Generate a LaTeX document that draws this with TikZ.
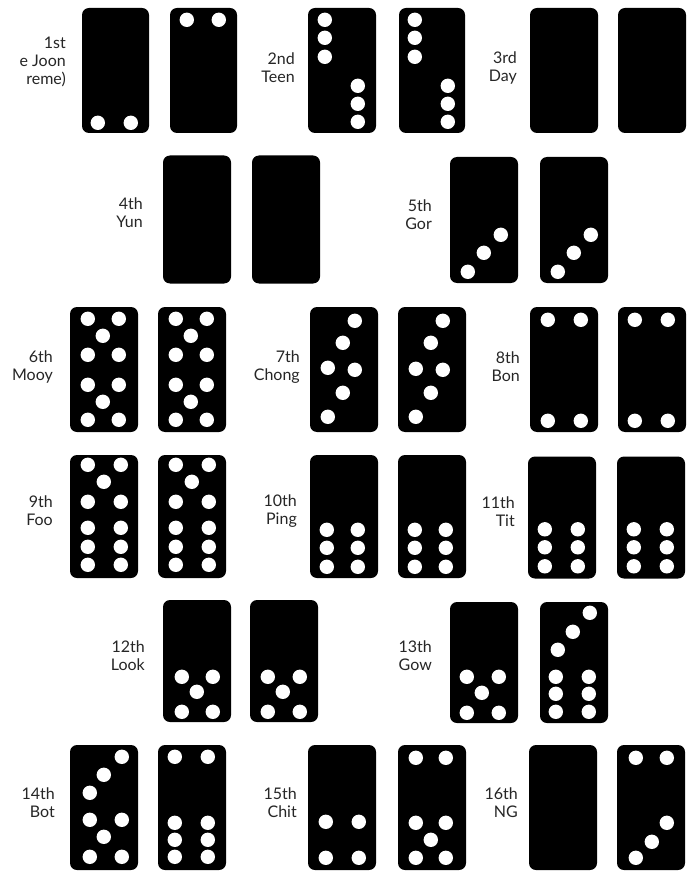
\documentclass[tikz,border=0pt]{standalone}
\usepackage{fontspec}
\setmainfont{Lato}
\usepackage{tikz}
\usetikzlibrary{calc}
\tikzset{
	tile/.style={fill=black, rounded corners=7pt, inner sep=0pt,
		minimum width=68pt, minimum height=125pt},
	pip/.style={fill=white},
	lbl/.style={anchor=east, align=right, inner sep=0pt, text=black!85,
		font=\fontsize{16}{18}\selectfont},
}
% white pips of a tile, offsets from its top left corner
\newcommand{\tilepips}[2]{%
	\foreach \px/\py in {#2} \fill[pip] ($(#1.north west)+(\px,\py)$) circle (7.2pt);}

\begin{document}
\begin{tikzpicture}[x=1pt, y=-1pt]
				\useasboundingbox[fill=white] (0,0) rectangle (686,874);
				% row 1
				\node[lbl] at (66,62) (l1) {1st\\e Joon\\reme)};
				\node[tile, minimum width=67pt] at (115.5,70.5) (gj1) {};
				\node[tile, minimum width=67pt] at (203.5,70.5) (gj2) {};
				\node[lbl] at (295,68) (l2) {2nd\\Teen};
				\node[tile] at (342,70.5) (teen1) {};
				\node[tile, minimum width=66pt] at (432,70.5) (teen2) {};
				\node[lbl] at (517,68) (l3) {3rd\\Day};
				\node[tile] at (564,70.5) (day1) {};
				\node[tile] at (652,70.5) (day2) {};
				\tilepips{gj1}{16/115,49/115}
				\tilepips{gj2}{17/12,49/12}
				\tilepips{teen1}{17/12,17/30,17/49,50/78,50/96,50/114}
				\tilepips{teen2}{16/12,16/30,16/49,49/78,49/96,49/114}
				% row 2
				\node[lbl] at (143,213) (l4) {4th\\Yun};
				\node[tile, minimum height=128pt] at (197,219.5) (yun1) {};
				\node[tile, minimum height=128pt] at (286,219.5) (yun2) {};
				\node[lbl] at (432,215) (l5) {5th\\Gor};
				\node[tile, minimum height=126pt] at (484,220) (gor1) {};
				\node[tile, minimum height=126pt] at (574,220) (gor2) {};
				\tilepips{gor1}{18/115,34/96,51/78}
				\tilepips{gor2}{18/115,34/96,51/78}
				% row 3
				\node[lbl] at (53,367) (l6) {6th\\Mooy};
				\node[tile] at (104,369.5) (mooy1) {};
				\node[tile] at (192,369.5) (mooy2) {};
				\node[lbl] at (300,367) (l7) {7th\\Chong};
				\node[tile] at (344,369.5) (chong1) {};
				\node[tile] at (432,369.5) (chong2) {};
				\node[lbl] at (520,367) (l8) {8th\\Bon};
				\node[tile] at (564,369.5) (bon1) {};
				\node[tile] at (652,369.5) (bon2) {};
				\tilepips{mooy1}{18/12,49/12,33/29,18/48,49/48,18/78,49/78,33/95,18/113,49/113}
				\tilepips{mooy2}{18/12,49/12,33/29,18/48,49/48,18/78,49/78,33/95,18/113,49/113}
				\tilepips{chong1}{45/14,33/36,18/61,45/63,33/86,18/110}
				\tilepips{chong2}{45/14,33/36,18/62,45/63,33/86,18/110}
				\tilepips{bon1}{18/13,51/13,18/114,51/114}
				\tilepips{bon2}{17/13,50/13,17/114,50/114}
				% row 4
				\node[lbl] at (53,511) (l9) {9th\\Foo};
				\node[tile, minimum height=123pt] at (104,516.5) (foo1) {};
				\node[tile, minimum height=123pt] at (192,516.5) (foo2) {};
				\node[lbl] at (297,511) (l10) {10th\\Ping};
				\node[tile, minimum height=123pt] at (344,516.5) (ping1) {};
				\node[tile, minimum height=123pt] at (432,516.5) (ping2) {};
				\node[lbl] at (515,512) (l11) {11th\\Tit};
				\node[tile, minimum height=122pt] at (562,517.5) (tit1) {};
				\node[tile, minimum height=122pt] at (651,517.5) (tit2) {};
				\tilepips{foo1}{18/10,51/10,34/27,18/47,51/47,18/73,51/73,18/92,51/92,18/110,51/110}
				\tilepips{foo2}{18/10,51/10,34/27,18/47,51/47,18/73,51/73,18/92,51/92,18/110,51/110}
				\tilepips{ping1}{17/75,48/75,17/93,48/93,17/112,48/112}
				\tilepips{ping2}{17/75,48/75,17/93,48/93,17/112,48/112}
				\tilepips{tit1}{17/73,50/73,17/91,50/91,17/110,50/110}
				\tilepips{tit2}{17/73,50/73,17/91,50/91,17/110,50/110}
				% row 5
				\node[lbl] at (145,656) (l12) {12th\\Look};
				\node[tile, minimum height=122pt] at (197,661) (look1) {};
				\node[tile, minimum height=122pt] at (284,661) (look2) {};
				\node[lbl] at (432,656) (l13) {13th\\Gow};
				\node[tile, minimum height=121pt] at (484,662.5) (gow1) {};
				\node[tile, minimum height=121pt] at (574,662.5) (gow2) {};
				\tilepips{look1}{19/77,50/77,34/92,19/112,50/112}
				\tilepips{look2}{18/77,50/77,33/92,18/112,50/112}
				\tilepips{gow1}{17/75,49/75,32/91,17/111,49/111}
				\tilepips{gow2}{50/11,33/30,18/48,16/75,49/75,16/92,49/92,16/110,49/110}
				% row 6
				\node[lbl] at (55,803) (l14) {14th\\Bot};
				\node[tile] at (104,807.5) (bot1) {};
				\node[tile] at (192,807.5) (bot2) {};
				\node[lbl] at (297,803) (l15) {15th\\Chit};
				\node[tile] at (342,807.5) (chit1) {};
				\node[tile] at (432,807.5) (chit2) {};
				\node[lbl] at (518,803) (l16) {16th\\NG};
				\node[tile] at (563,807.5) (ng1) {};
				\node[tile] at (651,807.5) (ng2) {};
				\tilepips{bot1}{52/12,34/30,20/48,20/75,52/75,34/92,20/112,52/112}
				\tilepips{bot2}{17/12,50/12,17/78,50/78,17/95,50/95,17/112,50/112}
				\tilepips{chit1}{18/77,51/77,18/113,51/113}
				\tilepips{chit2}{18/13,48/13,18/78,48/78,33/95,18/113,48/113}
				\tilepips{ng2}{19/13,50/13,50/78,35/97,19/113}
			\end{tikzpicture}
\end{document}
